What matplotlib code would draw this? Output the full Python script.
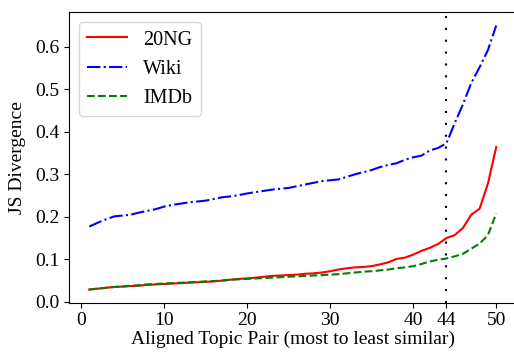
import numpy as np
import matplotlib.pyplot as plt

plt.rcParams['font.family'] = ['Liberation Serif', 'DejaVu Serif']
plt.rcParams['mathtext.fontset'] = 'stix'

pairs = list(range(1, 51))

ng20 = [0.029, 0.031, 0.033, 0.035, 0.036, 0.037, 0.038, 0.040, 0.041, 0.042,
        0.043, 0.044, 0.045, 0.046, 0.047, 0.048, 0.050, 0.052, 0.054, 0.055,
        0.057, 0.059, 0.061, 0.062, 0.063, 0.064, 0.066, 0.067, 0.069, 0.072,
        0.076, 0.079, 0.081, 0.082, 0.084, 0.088, 0.093, 0.101, 0.104, 0.111,
        0.120, 0.127, 0.136, 0.150, 0.157, 0.174, 0.205, 0.219, 0.278, 0.364]

wiki = [0.177, 0.186, 0.194, 0.201, 0.203, 0.205, 0.210, 0.214, 0.218, 0.224,
        0.228, 0.231, 0.234, 0.236, 0.238, 0.242, 0.246, 0.248, 0.251, 0.255,
        0.258, 0.261, 0.264, 0.266, 0.268, 0.272, 0.276, 0.280, 0.284, 0.286,
        0.288, 0.294, 0.300, 0.305, 0.310, 0.317, 0.322, 0.326, 0.334, 0.340,
        0.344, 0.356, 0.362, 0.373, 0.420, 0.465, 0.515, 0.552, 0.592, 0.650]

imdb = [0.029, 0.031, 0.033, 0.035, 0.036, 0.038, 0.039, 0.041, 0.042, 0.043,
        0.044, 0.045, 0.046, 0.047, 0.048, 0.049, 0.050, 0.052, 0.053, 0.054,
        0.055, 0.056, 0.057, 0.058, 0.059, 0.060, 0.061, 0.062, 0.063, 0.064,
        0.065, 0.067, 0.069, 0.071, 0.072, 0.074, 0.076, 0.079, 0.081, 0.084,
        0.089, 0.095, 0.099, 0.102, 0.107, 0.113, 0.125, 0.137, 0.157, 0.208]

cutoff = 44
xticks = [0, 10, 20, 30, 40, 44, 50]

fig = plt.figure(figsize=(5.14, 3.52), dpi=100)
# right spine falls at the image edge, as in the original crop
ax = fig.add_axes([0.134, 0.140, 0.871, 0.825])

ax.plot(pairs, ng20, 'r-', label='20NG')
ax.plot(pairs, wiki, 'b-.', label='Wiki')
ax.plot(pairs, imdb, 'g--', label='IMDb')
ax.axvline(cutoff, color='k', linestyle=(0, (1, 4.7)))

ax.set_xticks(xticks)
ax.set_xlabel('Aligned Topic Pair (most to least similar)', fontsize=14, labelpad=1)
ax.set_ylabel('JS Divergence', fontsize=14, labelpad=6)
ax.tick_params(labelsize=14)
ax.legend(loc='upper left', fontsize=14.5)

fig.savefig('out.png', dpi=100)
